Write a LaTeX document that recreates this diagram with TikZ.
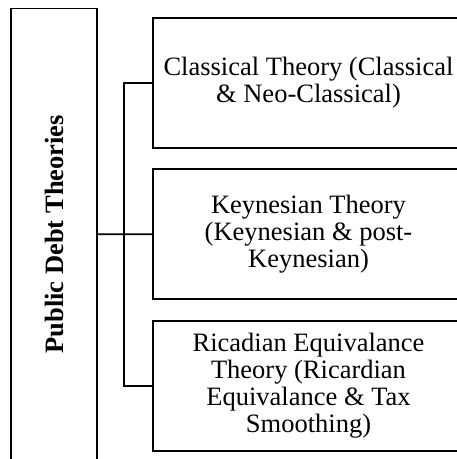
\documentclass[tikz,border=0pt]{standalone}
\usepackage{fontspec}
\setmainfont{Liberation Serif}
\usetikzlibrary{positioning}

\begin{document}
\begin{tikzpicture}[x=1pt, y=1pt, line width=1.9pt,
    theorybox/.style={draw, align=center, minimum width=311pt, minimum height=130pt, inner sep=0pt,
      font=\fontsize{26.5pt}{26.8pt}\selectfont},
    mainbox/.style={draw, rotate=90, minimum width=451.5pt, minimum height=86pt, inner sep=0pt,
      font=\fontsize{26.5pt}{26.8pt}\selectfont\bfseries}]
      \useasboundingbox (0,0) rectangle (457,459);

      % nodes %
      \node[mainbox] (pdt) at (54.25,224.75) {Public Debt Theories};
      \node[theorybox] (classical) at (308.5,376) {Classical Theory (Classical\\ \& Neo-Classical)};
      \node[theorybox, below of = classical, node distance=151.3pt] (keynes) {Keynesian Theory\\ (Keynesian \& post-\\ Keynesian)};
      \node[theorybox, below of = keynes, node distance=151.5pt] (ricardian) {Ricadian Equivalance\\ Theory (Ricardian\\ Equivalance \& Tax\\ Smoothing)};

      % edges %
      \draw (pdt.south) -- (keynes.west);
      \draw (classical.west) -- ++(-28pt,0) coordinate (spine) |- (ricardian.west);
\end{tikzpicture}
\end{document}
